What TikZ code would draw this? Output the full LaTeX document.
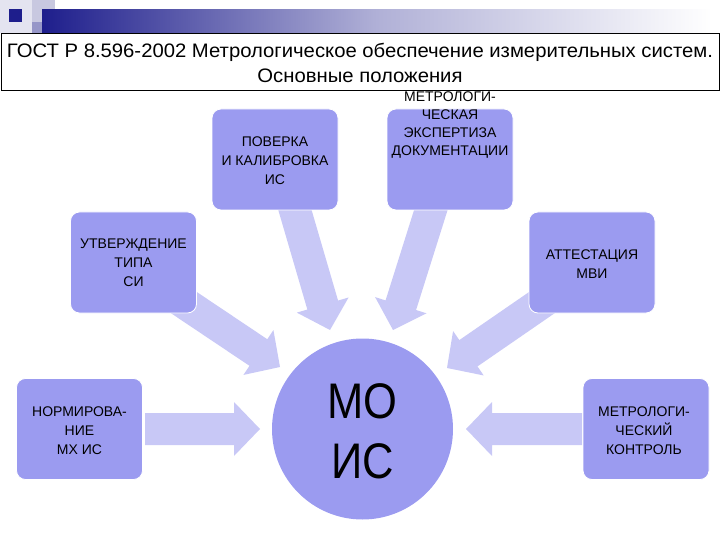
\documentclass[tikz,border=0pt]{standalone}
\usepackage{fontspec}
\setmainfont{Liberation Sans}
\usetikzlibrary{calc}
\definecolor{boxc}{RGB}{155,155,240}
\definecolor{arrc}{RGB}{200,200,246}
\definecolor{navy}{RGB}{30,30,140}
\definecolor{decolight}{RGB}{228,228,240}
\definecolor{decomid}{RGB}{200,200,224}
\definecolor{decodark}{RGB}{150,150,200}
\newcommand\blockarrow[2]{%
  \coordinate (hb) at ($(#2)!26pt!(#1)$);
  \fill[arrc] ($(#1)!16pt!90:(#2)$) -- ($(hb)!16pt!-90:(#1)$) -- ($(hb)!27pt!-90:(#1)$) -- (#2)
    -- ($(hb)!27pt!90:(#1)$) -- ($(hb)!16pt!90:(#1)$) -- ($(#1)!16pt!-90:(#2)$) -- cycle;}
\begin{document}
\begin{tikzpicture}[x=1pt,y=-1pt,
  box/.style={rounded corners=9pt, fill=boxc, draw=white, line width=0.8pt,
    minimum width=126pt, minimum height=101pt, inner sep=0pt},
  lbl/.style={align=center, font=\fontsize{14}{19}\selectfont, inner sep=0pt},
  ttl/.style={align=center, font=\fontsize{19.5}{25}\selectfont, inner sep=0pt, xscale=1.04}]
\useasboundingbox (0,0) rectangle (720,540);
% top decoration
\fill[decolight] (0,0) rectangle (42,33);
\fill[decomid] (32,0) rectangle (55,22);
\fill[decodark] (32,22) rectangle (42,33);
\shade[left color=navy, right color=white, middle color=navy!35!white] (42,10) rectangle (712,33);
\fill[navy] (9,9) rectangle (22,22);
% arrow end points
\coordinate (t1) at (145,429); \coordinate (p1) at (260,429);
\coordinate (t2) at (582,429); \coordinate (p2) at (466,429);
\coordinate (t3) at (180,300); \coordinate (p3) at (280,367);
\coordinate (t4) at (292,200); \coordinate (p4) at (330,330);
\coordinate (t5) at (434,200); \coordinate (p5) at (393,330);
\coordinate (t6) at (550,297); \coordinate (p6) at (447,368);
\blockarrow{t1}{p1}
\blockarrow{t2}{p2}
\blockarrow{t3}{p3}
\blockarrow{t4}{p4}
\blockarrow{t5}{p5}
\blockarrow{t6}{p6}
% boxes
\node[box] (pov) at (275,159.5) {};
\node[box] (exp) at (450,159.5) {};
\node[box] (utv) at (133.5,262.5) {};
\node[box] (att) at (592,262.5) {};
\node[box] (norm) at (79.5,429) {};
\node[box] (kon) at (646,429) {};
\node[circle, fill=boxc, minimum size=181pt, inner sep=0pt] (mo) at (362.5,429) {};
% labels
\node[lbl] (povt) at (275,161) {ПОВЕРКА\\И КАЛИБРОВКА\\ИС};
\node[lbl, font=\fontsize{14}{18}\selectfont] (expt) at (450,125) {МЕТРОЛОГИ-\\ЧЕСКАЯ\\ЭКСПЕРТИЗА\\ДОКУМЕНТАЦИИ};
\node[lbl] (utvt) at (133.5,263) {УТВЕРЖДЕНИЕ\\ТИПА\\СИ};
\node[lbl] (attt) at (592,264) {АТТЕСТАЦИЯ\\МВИ};
\node[lbl] (normt) at (79.5,431) {НОРМИРОВА-\\НИЕ\\МХ ИС};
\node[lbl] (kont) at (644,431) {МЕТРОЛОГИ-\\ЧЕСКИЙ\\КОНТРОЛЬ};
\node[align=center, inner sep=0pt, font=\fontsize{50}{60}\selectfont, xscale=0.87] (mot) at (362.5,431) {МО\\ИС};
% title
\node[draw=black, line width=0.9pt, fill=white, minimum width=718pt, minimum height=57pt, inner sep=0pt] (tbox) at (360,62) {};
\node[ttl] (tt) at (360,62.5) {ГОСТ Р 8.596-2002 Метрологическое обеспечение измерительных систем.\\Основные положения};
\end{tikzpicture}
\end{document}
